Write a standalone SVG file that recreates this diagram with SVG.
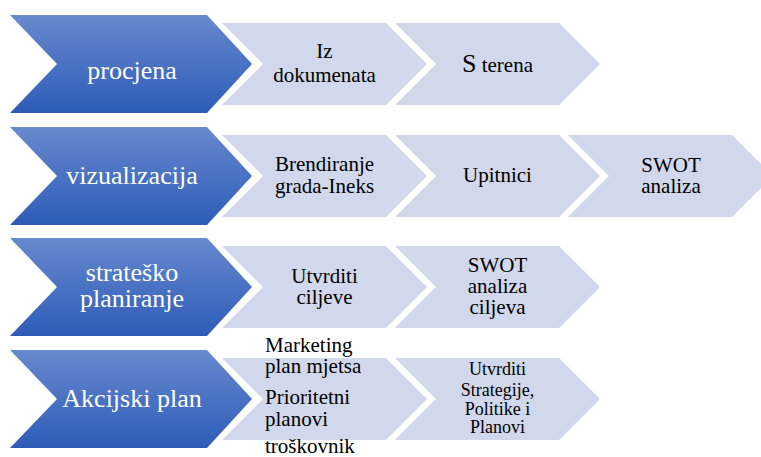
<svg xmlns="http://www.w3.org/2000/svg" width="761" height="457" viewBox="0 0 761 457">
<defs>
<linearGradient id="bg" x1="0" y1="0" x2="0" y2="1">
<stop offset="0" stop-color="#6789ce"/>
<stop offset="1" stop-color="#2d5cb8"/>
</linearGradient>
<style>
.blue{fill:url(#bg);}
.light{fill:#d1d8eb;}
text{font-family:'Liberation Serif','DejaVu Serif',serif;}
.wt{font-size:26px;fill:#ffffff;text-anchor:middle;}
.bt{font-size:21px;fill:#000000;text-anchor:middle;}
.bl{font-size:21px;fill:#000000;}
.st{font-size:18px;fill:#000000;text-anchor:middle;}
</style>
</defs>
<rect width="761" height="457" fill="#ffffff"/>
<g id="connectors"/>
<g font-family="Liberation Serif, DejaVu Serif, serif">
<g id="procjena">
<path class="blue" d="M10,15 L207,15 L252,64 L207,113 L10,113 L57,64 Z"/>
<text class="wt" x="132" y="79">procjena</text>
</g>
<g id="iz-dokumenata">
<path class="light" d="M222,23 L386,23 L427,64 L386,105 L222,105 L263,64 Z"/>
<text class="bt" x="324.5" y="58">Iz</text>
<text class="bt" x="324.5" y="82">dokumenata</text>
</g>
<g id="s-terena">
<path class="light" d="M395,23 L559,23 L600,64 L559,105 L395,105 L436,64 Z"/>
<text class="bt" x="497.5" y="72"><tspan font-size="26">S</tspan> terena</text>
</g>

<g id="vizualizacija">
<path class="blue" d="M10,127 L207,127 L252,176 L207,225 L10,225 L57,176 Z"/>
<text class="wt" x="132" y="184">vizualizacija</text>
</g>
<g id="brendiranje">
<path class="light" d="M222,135 L386,135 L427,176 L386,217 L222,217 L263,176 Z"/>
<text class="bt" x="324.5" y="171">Brendiranje</text>
<text class="bt" x="324.5" y="193">grada-Ineks</text>
</g>
<g id="upitnici">
<path class="light" d="M395,135 L559,135 L600,176 L559,217 L395,217 L436,176 Z"/>
<text class="bt" x="497.5" y="182">Upitnici</text>
</g>
<g id="swot-analiza">
<path class="light" d="M568,135 L732,135 L773,176 L732,217 L568,217 L609,176 Z"/>
<text class="bt" x="671" y="172">SWOT</text>
<text class="bt" x="671" y="193">analiza</text>
</g>

<g id="strateško-planiranje">
<path class="blue" d="M10,238 L207,238 L252,287 L207,336 L10,336 L57,287 Z"/>
<text class="wt" x="132" y="281">strateško</text>
<text class="wt" x="132" y="307">planiranje</text>
</g>
<g id="utvrditi-ciljeve">
<path class="light" d="M222,246 L386,246 L427,287 L386,328 L222,328 L263,287 Z"/>
<text class="bt" x="324.5" y="283">Utvrditi</text>
<text class="bt" x="324.5" y="304">ciljeve</text>
</g>
<g id="swot-analiza-ciljeva">
<path class="light" d="M395,246 L559,246 L600,287 L559,328 L395,328 L436,287 Z"/>
<text class="bt" x="497.5" y="272">SWOT</text>
<text class="bt" x="497.5" y="293">analiza</text>
<text class="bt" x="497.5" y="314">ciljeva</text>
</g>

<g id="akcijski-plan">
<path class="blue" d="M10,350 L207,350 L252,399 L207,448 L10,448 L57,399 Z"/>
<text class="wt" x="132" y="407">Akcijski plan</text>
</g>
<g id="marketing-plan">
<path class="light" d="M222,358 L386,358 L427,399 L386,440 L222,440 L263,399 Z"/>
<text class="bl" x="265" y="352">Marketing</text>
<text class="bl" x="265" y="373">plan mjetsa</text>
<text class="bl" x="265" y="404">Prioritetni</text>
<text class="bl" x="265" y="426">planovi</text>
<text class="bl" x="265" y="453">troškovnik</text>
</g>
<g id="utvrditi-strategije">
<path class="light" d="M395,358 L559,358 L600,399 L559,440 L395,440 L436,399 Z"/>
<text class="st" x="497.5" y="375">Utvrditi</text>
<text class="st" x="497.5" y="396">Strategije,</text>
<text class="st" x="497.5" y="415">Politike i</text>
<text class="st" x="497.5" y="433">Planovi</text>
</g>
</g>
</svg>
